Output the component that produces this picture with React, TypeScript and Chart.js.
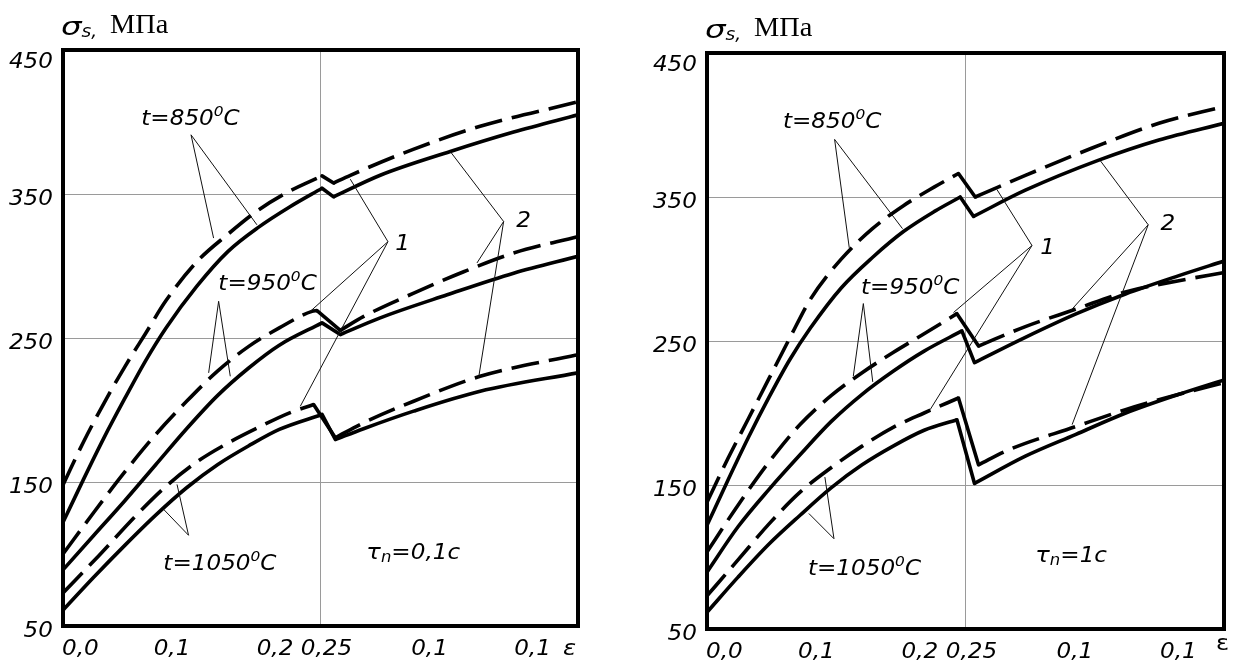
import React, { useEffect, useRef } from "react";
import { Chart, registerables } from "chart.js";

Chart.register(...registerables);

// ---------- axes ----------
const X_MIN = 0;
const X_MAX = 0.5;
const Y_MIN = 50;
const Y_MAX = 450;
const X_TICKS = [0, 0.1, 0.2, 0.25, 0.35, 0.45];
const X_TICK_LABELS = ["0,0", "0,1", "0,2", "0,25", "0,1", "0,1"];
const Y_TICKS = [50, 150, 250, 350, 450];
const X_GRID = [0.25];
const Y_GRID = [150, 250, 350];

// ---------- left panel (τn = 0,1 c) ----------
const L850_DASH_EPS = [0, 0.02, 0.04, 0.06, 0.08, 0.1, 0.13, 0.16, 0.19, 0.22, 0.2515, 0.2627, 0.279, 0.34, 0.405, 0.5];
const L850_DASH_SIG = [148, 178, 205, 230, 253, 276, 303, 322, 339, 352, 362.6, 357.6, 363, 381, 397, 414];
const L850_SOLID_EPS = [0, 0.02, 0.04, 0.06, 0.08, 0.1, 0.13, 0.16, 0.19, 0.22, 0.2515, 0.2627, 0.308, 0.376, 0.4375, 0.5];
const L850_SOLID_SIG = [122, 152, 181, 208, 234, 257, 286, 310, 327, 341, 354, 348, 363, 379.5, 393, 405];
const L950_DASH_EPS = [0, 0.03, 0.06, 0.09, 0.12, 0.15, 0.18, 0.21, 0.2417, 0.2466, 0.2692, 0.292, 0.34, 0.389, 0.4375, 0.5];
const L950_DASH_SIG = [100, 129, 157, 183, 206, 227, 244, 257, 268.5, 269, 255.3, 265, 281, 296, 309, 320.5];
const L950_SOLID_EPS = [0, 0.03, 0.06, 0.09, 0.12, 0.15, 0.18, 0.21, 0.2515, 0.2692, 0.308, 0.373, 0.4375, 0.5];
const L950_SOLID_SIG = [89, 113, 137, 162, 187, 210, 229, 245, 260.5, 252.4, 264, 280, 295, 306.7];
const L1050_DASH_EPS = [0, 0.035, 0.07, 0.1, 0.13, 0.16, 0.19, 0.22, 0.2433, 0.2644, 0.2918, 0.3404, 0.405, 0.5];
const L1050_DASH_SIG = [73, 99, 126, 147, 164, 177, 188, 198, 203.8, 180.7, 191.1, 206.1, 223.4, 238.5];
const L1050_SOLID_EPS = [0, 0.03, 0.06, 0.09, 0.12, 0.15, 0.18, 0.21, 0.2515, 0.2644, 0.2918, 0.3404, 0.405, 0.5];
const L1050_SOLID_SIG = [61, 84, 106, 127, 146, 162, 175, 186.5, 196.9, 179.5, 187, 199.2, 213, 225.8];

// ---------- right panel (τn = 1 c) ----------
const R850_DASH_EPS = [0, 0.02, 0.04, 0.06, 0.08, 0.1, 0.13, 0.16, 0.19, 0.22, 0.2432, 0.2594, 0.2804, 0.3079, 0.3725, 0.437, 0.5];
const R850_DASH_SIG = [138, 168, 196, 224, 252, 279, 307, 328, 344, 357, 366.3, 350, 356.5, 365, 384, 401.2, 412.8];
const R850_SOLID_EPS = [0, 0.02, 0.04, 0.06, 0.08, 0.1, 0.13, 0.16, 0.19, 0.22, 0.2449, 0.2578, 0.3079, 0.3789, 0.437, 0.5];
const R850_SOLID_SIG = [122, 153, 183, 211, 237, 259, 287, 308, 326, 340, 350, 336.5, 354.7, 375.6, 389.6, 401.2];
const R950_DASH_EPS = [0, 0.03, 0.06, 0.09, 0.12, 0.15, 0.18, 0.21, 0.2417, 0.2626, 0.3079, 0.3563, 0.4047, 0.4564, 0.5];
const R950_DASH_SIG = [103.5, 136, 166, 192, 212, 228, 242, 255, 269, 246.5, 260, 272, 284, 291.9, 297.5];
const R950_SOLID_EPS = [0, 0.03, 0.06, 0.09, 0.12, 0.15, 0.18, 0.21, 0.2465, 0.2587, 0.3079, 0.3563, 0.4047, 0.4564, 0.5];
const R950_SOLID_SIG = [89.5, 121, 147, 171, 194, 213, 229, 243, 257, 235, 252.5, 268.6, 282.6, 295.4, 305.5];
const R1050_DASH_EPS = [0, 0.03, 0.06, 0.09, 0.12, 0.15, 0.18, 0.21, 0.2432, 0.2626, 0.2917, 0.3563, 0.4047, 0.4564, 0.5];
const R1050_DASH_SIG = [73, 98, 123, 145, 162, 177, 190, 200, 210.4, 164, 174.4, 190.5, 202.3, 213, 221];
const R1050_SOLID_EPS = [0, 0.03, 0.06, 0.09, 0.12, 0.15, 0.18, 0.21, 0.2417, 0.2587, 0.3079, 0.3563, 0.405, 0.4564, 0.5];
const R1050_SOLID_SIG = [61.6, 86, 109, 129, 148, 164, 177, 188, 195.3, 151.1, 170, 185, 200, 213, 223];

// ---------- annotation anchors (data units: strain, MPa) ----------
const L_TEXT_850 = [0.076, 398];
const L_TEXT_950 = [0.1508, 283.6];
const L_TEXT_1050 = [0.0974, 88.7];
const L_TEXT_1 = [0.3226, 311.3];
const L_TEXT_2 = [0.44, 327.3];
const L_TEXT_TAU = [0.2945, 96.3];
const L_LEADERS = [
  [[0.1243, 391.1], [0.1462, 319.4]],
  [[0.1243, 391.1], [0.1883, 328.6]],
  [[0.3155, 316.9], [0.2789, 360.3]],
  [[0.3155, 316.9], [0.2401, 268.5]],
  [[0.3155, 316.9], [0.2304, 202.6]],
  [[0.4278, 330.9], [0.376, 379.5]],
  [[0.4278, 330.9], [0.4019, 302.1]],
  [[0.4278, 330.9], [0.4035, 222.3]],
  [[0.1511, 275.5], [0.1414, 225.8]],
  [[0.1511, 275.5], [0.1624, 223.4]],
  [[0.1219, 113], [0.0977, 131]],
  [[0.1219, 113], [0.1107, 148.3]],
];

const R_TEXT_850 = [0.0734, 397.9];
const R_TEXT_950 = [0.1489, 282.8];
const R_TEXT_1050 = [0.0976, 87.4];
const R_TEXT_1 = [0.3224, 310.7];
const R_TEXT_2 = [0.4387, 326.8];
const R_TEXT_TAU = [0.3175, 96.5];
const R_LEADERS = [
  [[0.1234, 390], [0.1376, 314.7]],
  [[0.1234, 390], [0.1891, 328]],
  [[0.3143, 316.3], [0.2804, 355.2]],
  [[0.3143, 316.3], [0.2384, 269.8]],
  [[0.3143, 316.3], [0.2158, 202.3]],
  [[0.4267, 330.7], [0.3805, 375.1]],
  [[0.4267, 330.7], [0.3515, 270.9]],
  [[0.4267, 330.7], [0.3531, 191.9]],
  [[0.1512, 276], [0.1415, 225.6]],
  [[0.1512, 276], [0.1603, 221.6]],
  [[0.1228, 112.7], [0.0985, 130.2]],
  [[0.1228, 112.7], [0.114, 155.5]],
];

// ---------- styling ----------
const SANS = '"DejaVu Sans", Verdana, sans-serif';
const SERIF = '"Liberation Serif", "Times New Roman", serif';
const STRETCH = 1.1;
const DASH = [28, 10];
const LINE_W = 3.6;

type Run = { t: string; size?: number; dy?: number; style?: string; family?: string; sx?: number };

function tempRuns(num: string): Run[] {
  return [{ t: "t=" + num }, { t: "0", size: 14, dy: -9 }, { t: "C" }];
}
function tauRuns(v: string): Run[] {
  return [{ t: "τ", size: 22 }, { t: "n", size: 15, dy: 3 }, { t: "=" + v }];
}

function drawRuns(ctx: CanvasRenderingContext2D, x: number, y: number, runs: Run[]) {
  ctx.save();
  ctx.translate(x, y);
  ctx.textAlign = "left";
  ctx.textBaseline = "alphabetic";
  ctx.fillStyle = "#000";
  let cx = 0;
  for (const r of runs) {
    const sx = r.sx ?? STRETCH;
    ctx.font = `${r.style ?? "italic"} ${r.size ?? 21}px ${r.family ?? SANS}`;
    ctx.save();
    ctx.translate(cx, 0);
    ctx.scale(sx, 1);
    ctx.fillText(r.t, 0, r.dy ?? 0);
    ctx.restore();
    cx += ctx.measureText(r.t).width * sx;
  }
  ctx.restore();
}

type CurveDef = { eps: number[]; sig: number[]; dashed: boolean };

function curveDatasets(c: CurveDef) {
  const k = c.sig.findIndex((v, i) => i < c.sig.length - 1 && c.sig[i + 1] < v);
  const pts = c.eps.map((e, i) => ({ x: e, y: c.sig[i] }));
  const base: any = {
    borderColor: "#000",
    borderWidth: LINE_W,
    pointRadius: 0,
    fill: false,
    cubicInterpolationMode: "monotone",
    borderJoinStyle: "miter",
  };
  const dash = c.dashed ? DASH : [];
  return [
    { ...base, data: pts.slice(0, k + 1), borderDash: dash },
    { ...base, data: pts.slice(k, k + 2), borderDash: [], cubicInterpolationMode: "default", tension: 0, borderCapStyle: "round" },
    { ...base, data: pts.slice(k + 1), borderDash: dash },
  ];
}

type PanelCfg = {
  left: number;
  top: number;
  width: number;
  height: number;
  yWidth: number;
  padRight: number;
  padTop: number;
  xHeight: number;
  curves: CurveDef[];
  texts: { at: number[]; runs: Run[] }[];
  leaders: number[][][];
  epsItalic: boolean;
  epsDx: number;
  epsDy: number;
};

const LEFT_PANEL: PanelCfg = {
  left: 0,
  top: 0,
  width: 620,
  height: 661,
  yWidth: 63,
  padRight: 42,
  padTop: 50,
  xHeight: 35,
  curves: [
    { eps: L850_DASH_EPS, sig: L850_DASH_SIG, dashed: true },
    { eps: L850_SOLID_EPS, sig: L850_SOLID_SIG, dashed: false },
    { eps: L950_DASH_EPS, sig: L950_DASH_SIG, dashed: true },
    { eps: L950_SOLID_EPS, sig: L950_SOLID_SIG, dashed: false },
    { eps: L1050_DASH_EPS, sig: L1050_DASH_SIG, dashed: true },
    { eps: L1050_SOLID_EPS, sig: L1050_SOLID_SIG, dashed: false },
  ],
  texts: [
    { at: L_TEXT_850, runs: tempRuns("850") },
    { at: L_TEXT_950, runs: tempRuns("950") },
    { at: L_TEXT_1050, runs: tempRuns("1050") },
    { at: L_TEXT_1, runs: [{ t: "1" }] },
    { at: L_TEXT_2, runs: [{ t: "2" }] },
    { at: L_TEXT_TAU, runs: tauRuns("0,1c") },
  ],
  leaders: L_LEADERS,
  epsItalic: true,
  epsDx: -15,
  epsDy: 29,
};

const RIGHT_PANEL: PanelCfg = {
  left: 617,
  top: 0,
  width: 620,
  height: 661,
  yWidth: 90,
  padRight: 13,
  padTop: 53,
  xHeight: 32,
  curves: [
    { eps: R850_DASH_EPS, sig: R850_DASH_SIG, dashed: true },
    { eps: R850_SOLID_EPS, sig: R850_SOLID_SIG, dashed: false },
    { eps: R950_DASH_EPS, sig: R950_DASH_SIG, dashed: true },
    { eps: R950_SOLID_EPS, sig: R950_SOLID_SIG, dashed: false },
    { eps: R1050_DASH_EPS, sig: R1050_DASH_SIG, dashed: true },
    { eps: R1050_SOLID_EPS, sig: R1050_SOLID_SIG, dashed: false },
  ],
  texts: [
    { at: R_TEXT_850, runs: tempRuns("850") },
    { at: R_TEXT_950, runs: tempRuns("950") },
    { at: R_TEXT_1050, runs: tempRuns("1050") },
    { at: R_TEXT_1, runs: [{ t: "1" }] },
    { at: R_TEXT_2, runs: [{ t: "2" }] },
    { at: R_TEXT_TAU, runs: tauRuns("1c") },
  ],
  leaders: R_LEADERS,
  epsItalic: false,
  epsDx: -8,
  epsDy: 21,
};

function Panel({ cfg }: { cfg: PanelCfg }) {
  const ref = useRef<HTMLCanvasElement>(null);

  useEffect(() => {
    const decor = {
      id: "decor",
      afterDraw(chart: any) {
        const ctx: CanvasRenderingContext2D = chart.ctx;
        const a = chart.chartArea;
        const xs = chart.scales.x;
        const ys = chart.scales.y;
        const px = (v: number) => xs.getPixelForValue(v);
        const py = (v: number) => ys.getPixelForValue(v);

        // leader lines
        ctx.save();
        ctx.strokeStyle = "#111";
        ctx.lineWidth = 1;
        for (const [p, q] of cfg.leaders) {
          ctx.beginPath();
          ctx.moveTo(px(p[0]), py(p[1]));
          ctx.lineTo(px(q[0]), py(q[1]));
          ctx.stroke();
        }
        ctx.restore();

        // frame
        ctx.save();
        ctx.strokeStyle = "#000";
        ctx.lineWidth = 4;
        ctx.strokeRect(a.left, a.top, a.right - a.left, a.bottom - a.top);
        ctx.restore();

        // y tick labels
        Y_TICKS.forEach((v) => {
          const base = Math.max(py(v) + 10.5, a.top + 18);
          ctx.save();
          ctx.font = `italic 21px ${SANS}`;
          const w = ctx.measureText(String(v)).width * STRETCH;
          ctx.restore();
          drawRuns(ctx, a.left - 10 - w, base, [{ t: String(v) }]);
        });

        // x tick labels
        X_TICKS.forEach((v, i) => {
          const lab = X_TICK_LABELS[i];
          ctx.save();
          ctx.font = `italic 21px ${SANS}`;
          const w = ctx.measureText(lab).width * STRETCH;
          ctx.restore();
          const x0 = i === 0 ? px(v) - 1 : px(v) + 6 - w / 2;
          drawRuns(ctx, x0, a.bottom + 29, [{ t: lab }]);
        });

        // epsilon
        drawRuns(ctx, a.right + cfg.epsDx, a.bottom + cfg.epsDy, [
          { t: "ε", size: 22, style: cfg.epsItalic ? "italic" : "normal" },
        ]);

        // y title
        drawRuns(ctx, a.left - 2, a.top - 15, [
          { t: "σ", size: 25, sx: 1.3 },
          { t: "s,", size: 17, dy: 2 },
        ]);
        drawRuns(ctx, a.left + 47, a.top - 17, [
          { t: "МПа", size: 27, style: "normal", family: SERIF, sx: 1.05 },
        ]);

        // annotations
        for (const tx of cfg.texts) {
          drawRuns(ctx, px(tx.at[0]), py(tx.at[1]), tx.runs);
        }
      },
    };

    const datasets = cfg.curves.flatMap(curveDatasets);

    const chart = new Chart(ref.current as HTMLCanvasElement, {
      type: "line",
      data: { datasets },
      options: {
        animation: false,
        responsive: false,
        devicePixelRatio: 1,
        parsing: false as any,
        normalized: true,
        layout: { padding: { left: 0, right: cfg.padRight, top: cfg.padTop, bottom: 0 } },
        plugins: { legend: { display: false }, tooltip: { enabled: false }, title: { display: false } },
        scales: {
          x: {
            type: "linear",
            min: X_MIN,
            max: X_MAX,
            afterBuildTicks: (s: any) => {
              s.ticks = X_TICKS.map((v) => ({ value: v }));
            },
            afterFit: (s: any) => {
              s.height = cfg.xHeight;
            },
            ticks: { display: false },
            border: { display: false },
            grid: {
              drawTicks: false,
              lineWidth: 1,
              color: (c: any) => (c.tick && X_GRID.includes(c.tick.value) ? "#9a9a9a" : "rgba(0,0,0,0)"),
            },
          },
          y: {
            type: "linear",
            min: Y_MIN,
            max: Y_MAX,
            afterBuildTicks: (s: any) => {
              s.ticks = Y_TICKS.map((v) => ({ value: v }));
            },
            afterFit: (s: any) => {
              s.width = cfg.yWidth;
            },
            ticks: { display: false },
            border: { display: false },
            grid: {
              drawTicks: false,
              lineWidth: 1,
              color: (c: any) => (c.tick && Y_GRID.includes(c.tick.value) ? "#9a9a9a" : "rgba(0,0,0,0)"),
            },
          },
        },
      } as any,
      plugins: [decor],
    });
    return () => chart.destroy();
  }, []);

  return (
    <canvas
      ref={ref}
      width={cfg.width}
      height={cfg.height}
      style={{ position: "absolute", left: cfg.left, top: cfg.top, width: cfg.width, height: cfg.height }}
    />
  );
}

export default function App() {
  return (
    <div
      style={{
        position: "fixed",
        left: 0,
        top: 0,
        width: 1237,
        height: 661,
        background: "#fff",
        overflow: "hidden",
      }}
    >
      <Panel cfg={LEFT_PANEL} />
      <Panel cfg={RIGHT_PANEL} />
    </div>
  );
}
